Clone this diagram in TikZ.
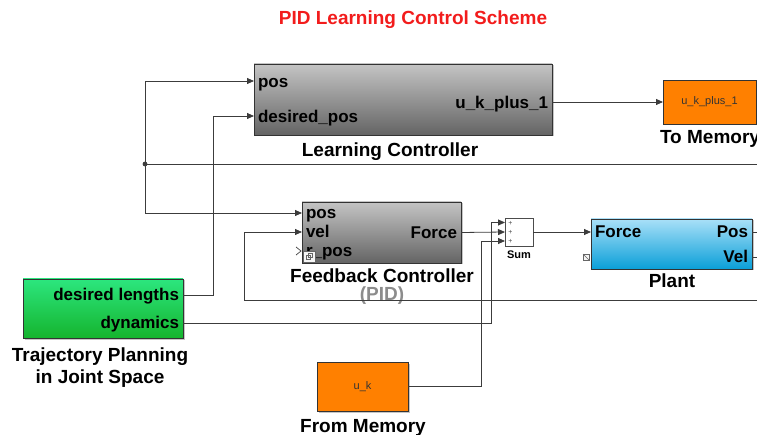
\documentclass[tikz,border=0pt]{standalone}
\usepackage{fontspec}
\setmainfont{Liberation Sans}
\usetikzlibrary{arrows.meta,calc,positioning,shadows}
\definecolor{slRed}{HTML}{F21C1C}
\definecolor{slGrayTop}{HTML}{C4C4C4}
\definecolor{slGrayBot}{HTML}{646464}
\definecolor{slCyanTop}{HTML}{A9E0F8}
\definecolor{slCyanBot}{HTML}{0A9FD8}
\definecolor{slGreenTop}{HTML}{2CE67E}
\definecolor{slGreenBot}{HTML}{15B42E}
\definecolor{slOrange}{HTML}{FF8000}
\definecolor{slWire}{HTML}{3C3C3C}
\newcommand{\portfont}{\fontsize{17}{19}\selectfont\bfseries}
\newcommand{\capfont}{\fontsize{19}{22}\selectfont\bfseries}
\newcommand{\memfont}{\fontsize{11}{12}\selectfont}
\tikzset{
  >={Triangle[length=7pt,width=6pt]},
  every node/.style={inner sep=0pt, outer sep=0pt},
  block/.style={draw=black!80, line width=0.8pt, anchor=north west,
    drop shadow={shadow xshift=1.5pt, shadow yshift=-1.5pt, fill=black!45, opacity=0.5}},
  grayblock/.style={block, top color=slGrayTop, bottom color=slGrayBot},
  cyanblock/.style={block, top color=slCyanTop, bottom color=slCyanBot},
  greenblock/.style={block, top color=slGreenTop, bottom color=slGreenBot},
  memblock/.style={block, fill=slOrange, font=\memfont, text=black!80},
  sumblock/.style={draw=black!70, line width=0.7pt, fill=white, anchor=north west,
    drop shadow={shadow xshift=1pt, shadow yshift=-1pt, fill=black!30, opacity=0.5}},
  iconbox/.style={draw=black!60, fill=black!4, line width=0.5pt, anchor=south west},
  portin/.style={anchor=base west, font=\portfont},
  portout/.style={anchor=base east, font=\portfont},
  caption/.style={anchor=base, font=\capfont, align=center},
  titletext/.style={anchor=base, font=\capfont, text=slRed},
  wire/.style={draw=slWire, line width=0.8pt},
  feed/.style={wire, ->},
}

\begin{document}
\begin{tikzpicture}[x=1pt,y=-1pt]
  \clip (0,0) rectangle (757,435);
  \node[titletext] (title) at (413,25) {PID Learning Control Scheme};

  % learning controller
  \node[grayblock, minimum width=298pt, minimum height=71pt] (lc) at (254,64) {};
  \coordinate (lcPos) at ($(lc.north west)+(0,17)$);
  \coordinate (lcDes) at ($(lc.north west)+(0,52)$);
  \coordinate (lcOut) at ($(lc.north east)+(0,38)$);
  \node[portin] (lcPosLbl) at ($(lcPos)+(4,7)$) {pos};
  \node[portin] (lcDesLbl) at ($(lcDes)+(4,7)$) {desired\_pos};
  \node[portout] (lcOutLbl) at ($(lcOut)+(-4,7)$) {u\_k\_plus\_1};
  \node[caption] (lcCap) at (390,157) {Learning Controller};

  \node[memblock, minimum width=93pt, minimum height=44pt] (tm) at (663,80) {u\_k\_plus\_1};
  \node[caption] (tmCap) at (710,144) {To Memory};

  % feedback controller
  \node[grayblock, minimum width=159pt, minimum height=61pt] (fc) at (302,202) {};
  \coordinate (fcPos) at ($(fc.north west)+(0,11)$);
  \coordinate (fcVel) at ($(fc.north west)+(0,30)$);
  \coordinate (fcRef) at ($(fc.north west)+(0,49)$);
  \node[portin] (fcPosLbl) at ($(fcPos)+(4,6)$) {pos};
  \node[portin] (fcVelLbl) at ($(fcVel)+(4,6)$) {vel};
  \node[portin] (fcRefLbl) at ($(fcRef)+(4,6)$) {r\_pos};
  \node[portout] (fcOutLbl) at ($(fc.east)+(-4,6)$) {Force};
  \node[iconbox, minimum width=12pt, minimum height=11pt] (fcIcon) at ($(fc.south west)+(1,-1)$) {};
  \draw[black!60, line width=0.4pt] ($(fcIcon.south west)+(3,-3)$) rectangle ($(fcIcon.south west)+(7.5,-7)$);
  \draw[black!60, line width=0.4pt] ($(fcIcon.south west)+(5,-5)$) rectangle ($(fcIcon.south west)+(9.5,-9)$);
  \draw[black!75, line width=0.7pt] ($(fcRef)+(-6,-4)$) -- ++(5,4) -- ++(-5,4);
  \node[caption] (fcCap) at (382,283) {Feedback Controller};
  \node[caption, text=black!45] (fcPid) at (382,301) {(PID)};

  % sum and plant
  \node[sumblock, minimum width=28pt, minimum height=28pt] (sum) at (505,218) {};
  \coordinate (sumIn1) at ($(sum.west)+(0,-9.5)$);
  \coordinate (sumIn2) at (sum.west);
  \coordinate (sumIn3) at ($(sum.west)+(0,9)$);
  \foreach \p in {sumIn1,sumIn2,sumIn3}
    \node[font=\fontsize{7}{7}\selectfont, text=black!70] at ($(\p)+(5.5,0.5)$) {+};
  \node[anchor=base, font=\memfont\bfseries] (sumCap) at (519,259) {Sum};

  \node[cyanblock, minimum width=161pt, minimum height=50pt] (pl) at (591,219) {};
  \coordinate (plForce) at ($(pl.north west)+(0,13)$);
  \coordinate (plPos) at ($(pl.north east)+(0,13)$);
  \coordinate (plVel) at ($(pl.north east)+(0,38)$);
  \node[portin] (plForceLbl) at ($(plForce)+(4,6)$) {Force};
  \node[portout] (plPosLbl) at ($(plPos)+(-4,6)$) {Pos};
  \node[portout] (plVelLbl) at ($(plVel)+(-4,6)$) {Vel};
  \node[iconbox, minimum width=6pt, minimum height=6pt] (plIcon) at ($(pl.south west)+(-8,-9)$) {};
  \draw[black!60, line width=0.4pt] (plIcon.north west) -- (plIcon.south east);
  \node[caption] (plCap) at (672,288) {Plant};

  % trajectory planning and memory
  \node[greenblock, minimum width=160pt, minimum height=59pt] (tp) at (23,279) {};
  \coordinate (tpDes) at ($(tp.north east)+(0,16)$);
  \coordinate (tpDyn) at ($(tp.north east)+(0,44)$);
  \node[portout] (tpDesLbl) at ($(tpDes)+(-4,6)$) {desired lengths};
  \node[portout] (tpDynLbl) at ($(tpDyn)+(-4,6)$) {dynamics};
  \node[caption] (tpCap) at (100,383) {Trajectory Planning\\in Joint Space};

  \node[memblock, minimum width=91pt, minimum height=49pt] (fm) at (317,362) {u\_k};
  \node[caption] (fmCap) at (363,432) {From Memory};

  % wiring
  \coordinate (posJoin) at (145,164);
  \coordinate (posEdge) at (757,164);
  \coordinate (velEdge) at (757,300);
  \coordinate (velTurn) at (244,300);
  \coordinate (desTurn) at (213,0);
  \coordinate (dynTurn) at (491,0);
  \coordinate (memTurn) at (481,0);
  \draw[wire] (posEdge) -- (posJoin);
  \fill[slWire] (posJoin) circle (2.4pt);
  \draw[feed] (posJoin) |- (lcPos);
  \draw[feed] (posJoin) |- (fcPos);
  \draw[feed] (tpDes) -- (tpDes -| desTurn) |- (lcDes);
  \draw[feed] (lcOut) -- (lcOut -| tm.west);
  \draw[feed] (velEdge) -- (velTurn) |- (fcVel);
  \draw[feed] (fc.east) -- (sumIn2);
  \draw[feed] (tpDyn) -- (tpDyn -| dynTurn) |- (sumIn1);
  \draw[feed] (fm.east) -- (fm.east -| memTurn) |- (sumIn3);
  \draw[feed] (sum.east) -- (plForce);
  \draw[wire] (plPos) -- ++(6,0);
  \draw[wire] (plVel) -- ++(6,0);
\end{tikzpicture}
\end{document}
